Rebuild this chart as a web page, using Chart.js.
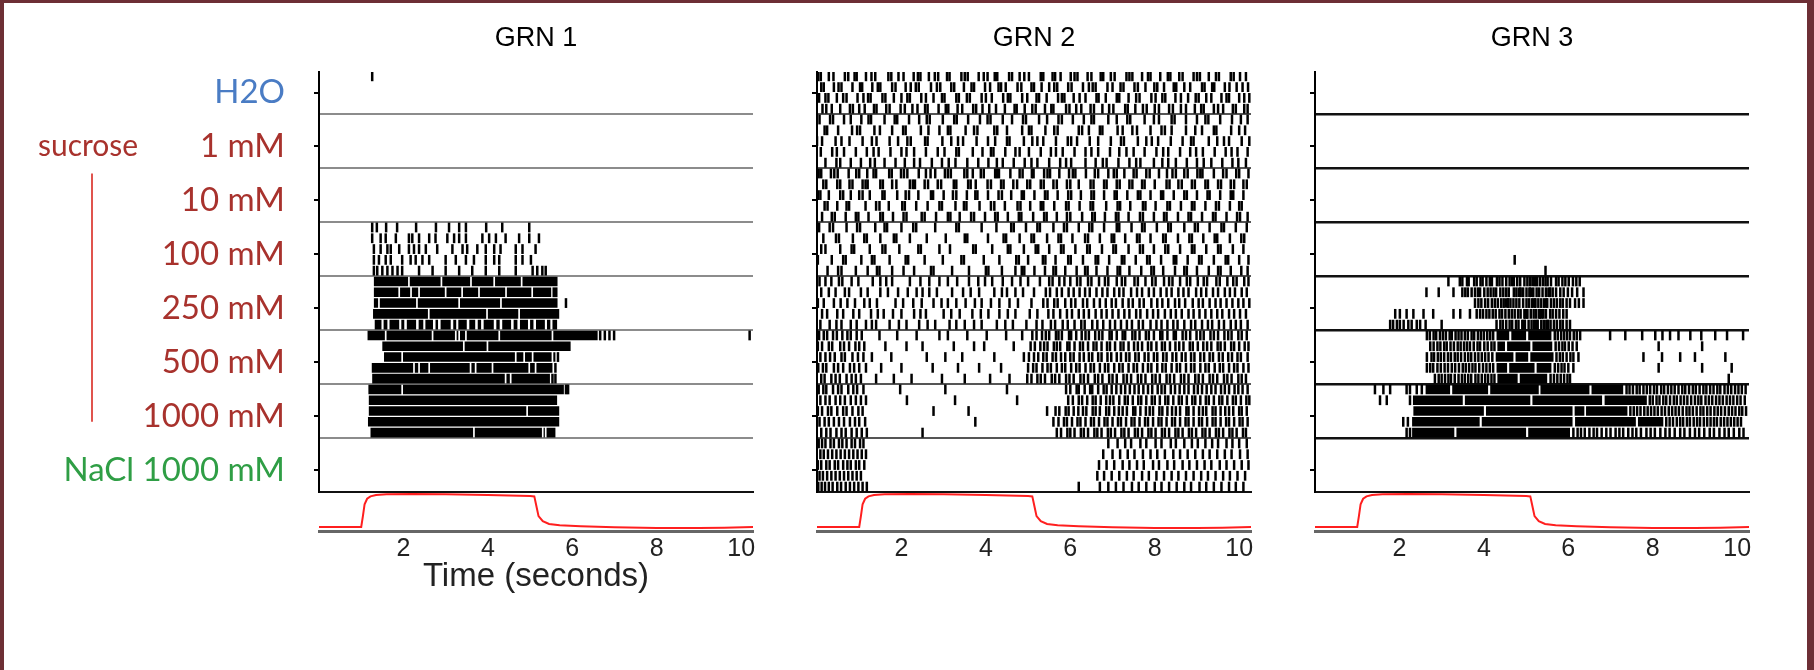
<!DOCTYPE html>
<html lang="en">
<head>
    <meta charset="UTF-8">
    <title>GRN spike rasters</title>
    <script src="https://cdn.jsdelivr.net/npm/chart.js@4.4.1/dist/chart.umd.min.js"></script>
    <style>
        body {
            margin: 0;
            width: 1814px;
            height: 670px;
            background: #6d2f35;
            overflow: hidden;
        }
        #sheet {
            position: absolute;
            left: 4px;
            top: 3px;
            width: 1803px;
            height: 667px;
            background: #fff;
        }
        .box {
            position: absolute;
        }
    </style>
</head>
<body>
    <div id="sheet"></div>

    <!-- GRN 1 -->
    <div class="box" style="left:0;top:0;width:772px;height:541px"><canvas id="raster1"></canvas></div>
    <div class="box" style="left:0;top:492px;width:772px;height:178px"><canvas id="stim1"></canvas></div>
    <!-- GRN 2 -->
    <div class="box" style="left:800px;top:0;width:460px;height:541px"><canvas id="raster2"></canvas></div>
    <div class="box" style="left:800px;top:492px;width:460px;height:178px"><canvas id="stim2"></canvas></div>
    <!-- GRN 3 -->
    <div class="box" style="left:1298px;top:0;width:460px;height:541px"><canvas id="raster3"></canvas></div>
    <div class="box" style="left:1298px;top:492px;width:460px;height:178px"><canvas id="stim3"></canvas></div>

    <script>
        // stimuli top to bottom, 5 trials each
        var stimuli = ['H2O', '1 mM', '10 mM', '100 mM', '250 mM', '500 mM', '1000 mM', 'NaCl 1000 mM'];
        var stimColors = ['#4a7cc4', '#a8322d', '#a8322d', '#a8322d', '#a8322d', '#a8322d', '#a8322d', '#2f9e45'];
        var timeTicks = [2, 4, 6, 8, 10];

        // tastant delivery trace (s, relative level)
        var stimTime  = [0, 1.0, 1.04, 1.08, 1.14, 1.22, 1.35, 1.6, 2.2, 3.0, 4.0, 5.0, 5.1, 5.14, 5.2, 5.3, 5.45, 5.7, 6.2, 7.0, 8.0, 9.0, 9.6, 10.28];
        var stimLevel = [0.03, 0.03, 0.35, 0.7, 0.86, 0.93, 0.97, 0.99, 1.0, 0.99, 0.97, 0.94, 0.93, 0.7, 0.35, 0.2, 0.12, 0.08, 0.05, 0.02, 0.0, 0.0, 0.01, 0.03];

        // spike times (s), one array per trial
        var grn1Spikes = [
            [], [1.26], [], [], [],
            [], [], [], [], [],
            [], [], [], [], [],
            [1.26,1.37,1.59,1.85,2.3,2.77,3.08,3.32,3.48,3.96,4.34,4.98],
            [1.26,1.46,1.58,1.82,2.13,2.21,2.37,2.61,2.76,3.04,3.2,3.32,3.48,3.87,4.03,4.19,4.42,4.74,4.98,5.21],
            [1.3,1.46,1.62,1.7,1.9,2.13,2.25,2.37,2.53,2.8,3.16,3.4,3.51,3.75,3.95,4.15,4.3,4.66,4.82,5.13],
            [1.3,1.42,1.58,1.7,1.97,2.17,2.29,2.45,2.61,3.0,3.24,3.48,3.67,3.95,4.15,4.27,4.66,4.82,5.02],
            [1.3,1.38,1.5,1.62,1.74,1.86,1.97,2.37,2.69,3.0,3.32,3.63,3.95,4.27,4.66,5.06,5.17,5.29,5.37],
            [], [5.56,5.62], [5.85], [], [],
            [6.66,6.77,6.88,6.99,10.2], [], [5.66], [5.6], [5.53,5.6],
            [5.85,5.9], [], [], [], [],
            [], [], [], [], []
        ];
        // firing too dense to separate: [trial, start, end]
        var grn1Bursts = [
            [20,1.3,2.11],[20,2.15,2.88],[20,2.92,3.58],[20,3.62,4.13],[20,4.17,4.78],[20,4.82,5.65],
            [21,1.3,1.88],[21,1.92,2.16],[21,2.2,2.35],[21,2.39,2.98],[21,3.02,3.37],[21,3.41,3.77],[21,3.81,4.41],[21,4.45,5.03],[21,5.07,5.5],
            [22,1.3,1.4],[22,1.44,2.3],[22,2.34,3.3],[22,3.34,4.29],[22,4.33,5.65],
            [23,1.28,2.58],[23,2.62,3.96],[23,4.0,4.72],[23,4.76,5.69],
            [24,1.32,1.48],[24,1.53,1.62],[24,1.67,1.9],[24,1.95,2.02],[24,2.08,2.3],[24,2.36,2.47],[24,2.52,2.7],[24,2.76,2.82],
            [24,2.88,3.12],[24,3.18,3.25],[24,3.3,3.5],[24,3.56,3.7],[24,3.76,3.84],[24,3.9,4.14],[24,4.2,4.28],[24,4.34,4.55],
            [24,4.61,4.7],[24,4.76,4.95],[24,5.0,5.08],[24,5.14,5.35],[24,5.4,5.48],[24,5.53,5.64],
            [25,1.15,1.56],[25,1.6,2.67],[25,2.71,3.22],[25,3.26,3.3],[25,3.34,3.46],[25,3.5,4.25],[25,4.29,5.51],[25,5.55,6.6],
            [26,1.5,3.41],[26,3.45,3.97],[26,4.01,5.96],
            [27,1.54,1.95],[27,1.99,4.64],[27,4.68,4.84],[27,4.88,5.04],[27,5.08,5.51],[27,5.55,5.6],
            [28,1.25,2.23],[28,2.27,2.35],[28,2.39,2.59],[28,2.63,3.57],[28,3.61,3.69],[28,3.73,4.09],[28,4.13,4.96],[28,5.0,5.11],[28,5.15,5.53],
            [29,1.26,4.4],[29,4.44,4.52],[29,4.56,5.47],
            [30,1.17,1.95],[30,1.99,5.8],
            [31,1.18,5.64],
            [32,1.18,4.91],[32,4.95,5.69],
            [33,1.16,5.69],
            [34,1.22,3.65],[34,3.69,5.28],[34,5.32,5.35],[34,5.39,5.6]
        ];

        var grn2Spikes = [
            [],
            [0.03,0.09,0.28,0.39,0.66,0.74,0.89,0.94,1.16,1.29,1.38,1.69,1.76,1.93,2.05,2.29,2.39,2.45,2.65,2.79,2.87,3.08,3.14,3.42,3.5,3.57,3.83,3.95,4.04,4.21,4.27,4.55,4.62,4.8,4.91,5.02,5.3,5.36,5.58,5.64,5.77,6.01,6.1,6.17,6.41,6.5,6.72,6.78,6.96,7.05,7.33,7.4,7.47,7.7,7.84,7.9,8.13,8.31,8.37,8.58,8.66,8.92,9.0,9.07,9.28,9.45,9.52,9.8,9.87,10.02,10.16],
            [0.1,0.16,0.4,0.51,0.58,0.84,1.02,1.07,1.31,1.44,1.5,1.78,1.86,2.1,2.22,2.34,2.41,2.7,2.84,2.92,3.18,3.25,3.48,3.66,3.72,3.98,4.1,4.3,4.36,4.47,4.75,4.84,5.08,5.14,5.32,5.5,5.62,5.69,5.95,6.03,6.3,6.44,6.53,6.6,6.88,7.0,7.19,7.26,7.52,7.6,7.78,7.99,8.06,8.22,8.45,8.51,8.7,8.84,9.12,9.18,9.36,9.41,9.66,9.77,9.94,10.08,10.21],
            [0.05,0.2,0.27,0.47,0.62,0.7,0.96,1.1,1.21,1.27,1.55,1.62,1.82,2.0,2.14,2.2,2.47,2.58,2.76,2.96,3.02,3.3,3.36,3.55,3.62,3.9,4.0,4.14,4.41,4.52,4.58,4.86,4.98,5.2,5.26,5.44,5.71,5.8,5.86,6.08,6.22,6.36,6.62,6.67,6.84,7.1,7.16,7.38,7.56,7.64,7.92,8.02,8.18,8.25,8.49,8.62,8.79,8.97,9.04,9.22,9.34,9.58,9.7,9.76,10.0,10.12,10.24],
            [0.13,0.22,0.35,0.55,0.78,0.85,1.0,1.13,1.35,1.41,1.64,1.72,1.98,2.08,2.26,2.38,2.56,2.62,2.88,3.05,3.11,3.33,3.44,3.7,3.77,3.92,4.08,4.24,4.45,4.68,4.73,4.92,5.1,5.18,5.4,5.55,5.6,5.9,5.98,6.14,6.26,6.48,6.56,6.76,6.92,7.02,7.3,7.36,7.54,7.72,7.81,8.0,8.1,8.34,8.43,8.62,8.74,8.95,9.1,9.16,9.4,9.5,9.62,9.85,9.92,10.12,10.2],
            [0.06,0.31,0.38,0.64,0.8,1.05,1.22,1.28,1.6,1.84,1.9,2.18,2.42,2.6,2.67,2.98,3.25,3.31,3.58,3.86,4.04,4.11,4.4,4.62,4.88,4.95,5.26,5.45,5.72,5.8,6.06,6.32,6.5,6.56,6.9,7.1,7.35,7.42,7.76,7.98,8.1,8.4,8.47,8.74,9.0,9.2,9.27,9.55,9.83,10.04,10.2],
            [0.18,0.24,0.5,0.83,0.95,1.02,1.36,1.49,1.78,2.04,2.1,2.46,2.64,2.9,3.1,3.16,3.52,3.72,3.8,4.2,4.27,4.5,4.86,5.02,5.08,5.41,5.62,5.7,6.2,6.28,6.44,6.7,6.76,7.12,7.24,7.47,7.58,7.9,8.16,8.24,8.4,8.74,8.96,9.12,9.4,9.46,9.81,10.0,10.14],
            [0.0,0.12,0.44,0.58,0.77,1.08,1.3,1.41,1.72,1.92,2.14,2.22,2.56,2.62,2.97,3.18,3.34,3.46,3.78,4.05,4.22,4.5,4.56,4.9,5.1,5.22,5.36,5.66,5.94,6.02,6.16,6.46,6.66,6.96,7.2,7.27,7.6,7.8,7.93,8.08,8.38,8.66,8.86,8.92,9.28,9.48,9.64,9.76,10.06,10.24],
            [0.09,0.36,0.47,0.64,0.92,1.18,1.34,1.46,1.74,2.0,2.12,2.3,2.58,2.86,3.02,3.3,3.36,3.69,3.92,4.12,4.18,4.46,4.7,4.8,5.02,5.3,5.54,5.66,5.82,6.1,6.36,6.5,6.66,6.94,7.16,7.33,7.5,7.76,8.04,8.2,8.32,8.6,8.84,8.98,9.14,9.42,9.68,9.82,9.96,10.2],
            [0.2,0.46,0.55,0.8,1.04,1.26,1.37,1.6,1.86,2.08,2.3,2.44,2.72,2.96,3.12,3.28,3.56,3.82,4.06,4.26,4.4,4.66,4.92,5.08,5.22,5.5,5.76,5.9,6.02,6.36,6.6,6.77,6.86,7.14,7.4,7.56,7.66,7.98,8.18,8.32,8.5,8.76,9.0,9.16,9.34,9.6,9.84,9.98,10.16],
            [0.04,0.1,0.33,0.41,0.49,0.75,0.93,1.0,1.19,1.34,1.4,1.71,1.77,1.99,2.06,2.14,2.41,2.58,2.69,2.8,3.03,3.1,3.17,3.49,3.56,3.69,3.88,3.95,4.22,4.26,4.31,4.58,4.8,4.87,5.09,5.13,5.38,5.46,5.52,5.74,5.97,6.06,6.12,6.37,6.58,6.66,6.9,7.03,7.1,7.28,7.5,7.57,7.8,7.88,8.1,8.29,8.42,8.5,8.7,8.78,9.01,9.08,9.13,9.4,9.62,9.7,9.93,10.0,10.22],
            [0.15,0.22,0.48,0.55,0.77,0.84,1.08,1.15,1.2,1.5,1.56,1.78,1.88,2.2,2.27,2.32,2.55,2.63,2.86,2.94,3.24,3.3,3.58,3.64,3.76,4.04,4.12,4.36,4.42,4.65,4.74,4.98,5.05,5.3,5.37,5.6,5.68,5.92,6.0,6.2,6.48,6.55,6.8,6.86,7.1,7.17,7.4,7.47,7.7,7.76,8.0,8.28,8.35,8.56,8.64,8.88,8.95,9.2,9.26,9.5,9.57,9.8,9.88,10.1,10.18],
            [0.02,0.08,0.28,0.55,0.62,0.8,1.0,1.08,1.25,1.55,1.6,1.9,2.1,2.18,2.4,2.7,2.75,3.0,3.22,3.3,3.55,3.75,3.8,4.05,4.3,4.38,4.6,4.85,4.9,5.15,5.4,5.46,5.7,5.95,6.02,6.25,6.5,6.56,6.8,7.05,7.1,7.35,7.6,7.66,7.9,8.15,8.2,8.45,8.7,8.76,9.0,9.25,9.3,9.55,9.8,9.86,10.1],
            [0.18,0.25,0.48,0.7,0.76,1.15,1.4,1.48,1.7,2.02,2.08,2.35,2.62,2.9,2.96,3.28,3.48,3.54,3.85,4.12,4.2,4.45,4.75,4.82,5.05,5.3,5.36,5.62,5.9,5.96,6.22,6.48,6.54,6.85,7.12,7.18,7.42,7.72,7.78,8.02,8.3,8.36,8.62,8.88,8.94,9.2,9.45,9.52,9.78,10.0,10.06],
            [0.12,0.35,0.42,0.68,0.92,0.98,1.22,1.5,1.56,1.8,2.05,2.12,2.48,2.55,2.82,3.1,3.16,3.38,3.65,3.72,3.98,4.22,4.28,4.52,4.78,4.84,5.12,5.38,5.44,5.68,5.92,6.0,6.28,6.52,6.58,6.82,7.08,7.14,7.38,7.65,7.72,7.98,8.22,8.28,8.55,8.8,8.86,9.12,9.38,9.44,9.7,9.95,10.02,10.2],
            [0.05,0.3,0.38,0.7,0.95,1.02,1.38,1.6,1.66,2.0,2.28,2.35,2.8,3.3,3.36,3.9,4.25,4.6,4.66,4.95,5.22,5.28,5.6,5.85,5.92,6.2,6.45,6.52,6.8,7.1,7.16,7.45,7.7,7.76,8.05,8.32,8.38,8.7,8.95,9.02,9.3,9.58,9.64,9.92,10.18],
            [0.15,0.45,0.52,0.85,1.12,1.18,1.5,1.82,1.88,2.2,2.6,3.05,3.5,3.56,4.05,4.42,4.48,4.8,5.08,5.14,5.45,5.72,5.78,6.05,6.35,6.42,6.7,6.98,7.04,7.3,7.58,7.64,7.9,8.2,8.26,8.55,8.82,8.88,9.15,9.42,9.48,9.78,10.05,10.12],
            [0.1,0.2,0.55,0.82,0.88,1.25,1.55,1.62,1.95,2.4,2.46,2.9,3.15,3.7,3.76,4.15,4.52,4.58,4.9,5.18,5.24,5.5,5.78,5.84,6.12,6.4,6.46,6.75,7.02,7.08,7.38,7.65,7.72,7.98,8.25,8.32,8.6,8.88,8.94,9.22,9.5,9.56,9.85,10.1],
            [0.02,0.35,0.62,0.68,1.05,1.3,1.36,1.72,2.1,2.16,2.55,2.98,3.42,3.48,3.95,4.32,4.72,4.78,5.0,5.35,5.41,5.65,5.95,6.01,6.3,6.6,6.66,6.92,7.22,7.28,7.55,7.82,7.88,8.15,8.45,8.51,8.78,9.05,9.11,9.4,9.68,9.74,10.0,10.22],
            [0.25,0.5,0.58,0.92,1.2,1.42,1.48,1.78,2.05,2.3,2.7,2.76,3.2,3.6,4.0,4.06,4.38,4.7,4.85,4.91,5.15,5.4,5.6,5.66,5.88,6.15,6.35,6.41,6.62,6.88,7.12,7.18,7.4,7.68,7.92,7.98,8.2,8.48,8.7,8.76,9.0,9.28,9.5,9.56,9.8,10.05,10.2],
            [0.06,0.2,0.34,0.52,0.6,0.82,0.98,1.32,1.5,1.64,1.78,2.2,2.45,2.66,2.9,3.1,3.32,3.6,3.82,3.98,4.15,4.4,4.62,4.82,5.0,5.28,5.5,5.58,5.74,5.86,6.0,6.16,6.24,6.42,6.5,6.68,6.82,6.9,7.1,7.22,7.3,7.52,7.6,7.78,7.94,8.02,8.22,8.34,8.42,8.6,8.76,8.84,9.02,9.16,9.24,9.46,9.54,9.72,9.86,9.94,10.12,10.22],
            [0.1,0.28,0.44,0.66,0.76,1.04,1.2,1.5,1.68,1.92,2.15,2.36,2.5,2.66,2.84,3.2,3.46,3.64,3.84,4.2,4.38,4.5,4.7,4.88,5.14,5.42,5.52,5.68,5.8,5.96,6.08,6.22,6.35,6.46,6.62,6.76,6.88,7.04,7.16,7.26,7.44,7.58,7.7,7.86,7.98,8.14,8.28,8.4,8.56,8.68,8.8,8.98,9.1,9.22,9.38,9.5,9.66,9.78,9.9,10.06,10.18],
            [0.02,0.16,0.4,0.56,0.72,0.9,1.12,1.25,1.42,1.86,2.04,2.28,2.48,2.76,2.95,3.1,3.3,3.52,3.74,3.9,4.12,4.32,4.56,4.76,5.08,5.36,5.46,5.62,5.7,5.88,6.02,6.12,6.3,6.4,6.56,6.7,6.84,6.98,7.08,7.24,7.38,7.48,7.64,7.74,7.92,8.06,8.18,8.32,8.48,8.58,8.72,8.9,9.04,9.14,9.3,9.44,9.56,9.7,9.84,9.98,10.1,10.24],
            [0.12,0.24,0.48,0.62,0.86,1.0,1.28,1.44,1.58,1.8,2.0,2.3,2.45,2.58,3.0,3.18,3.38,3.68,3.88,4.06,4.32,4.52,4.7,5.04,5.22,5.48,5.6,5.76,5.92,6.04,6.2,6.32,6.44,6.6,6.74,6.86,7.0,7.14,7.28,7.4,7.56,7.66,7.82,7.96,8.08,8.24,8.38,8.5,8.64,8.8,8.92,9.06,9.2,9.34,9.48,9.6,9.76,9.88,10.02,10.16],
            [0.08,0.3,0.46,0.58,0.8,0.94,1.16,1.3,1.4,1.72,1.94,2.12,2.42,2.62,2.8,3.14,3.3,3.5,3.72,3.9,4.26,4.46,4.64,4.96,5.2,5.34,5.54,5.64,5.82,5.94,6.1,6.26,6.34,6.52,6.64,6.78,6.94,7.06,7.2,7.34,7.46,7.62,7.72,7.9,8.04,8.16,8.3,8.44,8.54,8.7,8.86,8.96,9.12,9.26,9.36,9.52,9.64,9.8,9.92,10.04,10.2],
            [0.05,0.16,0.24,0.38,0.47,0.6,0.72,0.8,0.94,1.06,1.48,1.9,2.36,2.9,3.1,3.56,4.02,4.48,4.86,5.1,5.2,5.33,5.42,5.5,5.66,5.72,5.8,5.97,6.02,6.14,6.27,6.36,6.44,6.59,6.68,6.76,6.93,6.98,7.1,7.24,7.3,7.47,7.54,7.64,7.79,7.86,7.98,8.13,8.18,8.3,8.45,8.5,8.66,8.74,8.84,8.99,9.08,9.16,9.32,9.4,9.5,9.65,9.74,9.82,9.98,10.06,10.18],
            [0.02,0.12,0.28,0.36,0.55,0.64,0.76,0.91,1.0,1.12,1.62,2.12,2.5,3.24,3.72,3.96,4.66,5.06,5.16,5.29,5.38,5.46,5.61,5.68,5.76,5.93,5.98,6.1,6.23,6.3,6.42,6.55,6.62,6.74,6.87,6.94,7.06,7.19,7.26,7.38,7.51,7.6,7.7,7.84,7.92,8.04,8.17,8.24,8.36,8.49,8.58,8.68,8.83,8.9,9.02,9.15,9.24,9.34,9.49,9.56,9.66,9.81,9.88,10.0,10.13,10.22],
            [0.08,0.2,0.31,0.42,0.58,0.66,0.84,0.97,1.1,1.3,1.76,2.6,3.04,3.44,4.2,4.9,5.02,5.14,5.24,5.36,5.44,5.58,5.66,5.78,5.88,6.0,6.08,6.22,6.32,6.44,6.52,6.66,6.74,6.88,6.97,7.1,7.2,7.32,7.4,7.54,7.62,7.76,7.85,7.98,8.06,8.2,8.28,8.42,8.51,8.64,8.73,8.86,8.94,9.08,9.17,9.3,9.38,9.52,9.61,9.74,9.83,9.96,10.04,10.2],
            [0.03,0.14,0.22,0.4,0.5,0.62,0.78,0.88,1.0,1.16,1.52,2.0,2.74,3.34,3.84,4.36,5.0,5.12,5.2,5.34,5.46,5.54,5.68,5.8,5.88,6.02,6.14,6.22,6.36,6.48,6.56,6.7,6.82,6.9,7.04,7.16,7.24,7.38,7.5,7.58,7.72,7.84,7.92,8.06,8.18,8.26,8.4,8.52,8.6,8.74,8.86,8.94,9.08,9.2,9.28,9.42,9.54,9.62,9.76,9.88,9.96,10.1,10.22],
            [0.1,0.18,0.34,0.44,0.54,0.7,0.82,0.92,1.04,1.4,1.82,2.24,2.96,3.5,4.1,4.56,4.98,5.08,5.22,5.3,5.4,5.56,5.64,5.74,5.9,5.98,6.08,6.24,6.32,6.42,6.58,6.66,6.76,6.92,7.0,7.1,7.26,7.34,7.44,7.6,7.68,7.78,7.94,8.02,8.12,8.28,8.36,8.46,8.62,8.7,8.8,8.96,9.04,9.14,9.3,9.38,9.48,9.64,9.72,9.82,9.98,10.06,10.16],
            [0.04,0.15,0.22,0.38,0.5,0.58,0.74,0.86,0.95,1.1,1.97,3.04,4.5,5.9,6.0,6.15,6.2,6.34,6.47,6.52,6.66,6.79,6.86,6.98,7.09,7.2,7.3,7.41,7.52,7.62,7.73,7.84,7.94,8.07,8.16,8.24,8.38,8.48,8.59,8.7,8.8,8.93,9.02,9.12,9.23,9.34,9.44,9.57,9.66,9.76,9.89,9.98,10.08,10.2],
            [0.08,0.2,0.3,0.44,0.55,0.66,0.8,0.92,1.04,1.16,2.13,3.27,4.74,5.95,6.06,6.2,6.28,6.4,6.53,6.6,6.72,6.85,6.94,7.02,7.16,7.29,7.36,7.48,7.61,7.68,7.8,7.93,8.0,8.12,8.25,8.32,8.44,8.57,8.64,8.76,8.89,8.96,9.08,9.21,9.28,9.4,9.53,9.6,9.72,9.85,9.92,10.04,10.17,10.24],
            [0.02,0.12,0.26,0.34,0.48,0.62,0.7,0.84,0.98,1.08,2.76,3.59,5.45,5.65,5.74,5.89,5.96,6.08,6.19,6.3,6.38,6.53,6.6,6.7,6.85,6.92,7.04,7.15,7.24,7.34,7.49,7.54,7.66,7.79,7.88,7.96,8.11,8.18,8.3,8.41,8.5,8.6,8.75,8.8,8.92,9.05,9.14,9.22,9.37,9.44,9.56,9.67,9.76,9.86,10.0,10.06,10.18],
            [0.06,0.18,0.28,0.4,0.52,0.64,0.78,0.9,1.0,1.14,3.75,5.6,5.72,5.85,5.92,6.04,6.17,6.24,6.36,6.49,6.56,6.68,6.81,6.88,7.0,7.13,7.2,7.32,7.45,7.52,7.64,7.77,7.84,7.96,8.09,8.16,8.28,8.41,8.48,8.6,8.73,8.8,8.92,9.05,9.12,9.24,9.37,9.44,9.56,9.69,9.76,9.88,10.01,10.08,10.2],
            [0.1,0.22,0.32,0.46,0.58,0.68,0.82,0.94,1.06,1.18,2.5,5.68,5.78,5.93,6.0,6.1,6.25,6.32,6.42,6.57,6.64,6.74,6.89,6.96,7.06,7.21,7.28,7.38,7.53,7.6,7.7,7.85,7.92,8.02,8.17,8.24,8.34,8.49,8.56,8.66,8.81,8.88,8.98,9.13,9.2,9.3,9.45,9.52,9.62,9.77,9.84,9.94,10.09,10.16],
            [0.04,0.12,0.2,0.32,0.4,0.52,0.6,0.7,0.82,0.9,1.02,1.1,6.9,7.12,7.3,7.44,7.66,7.8,8.02,8.16,8.38,8.5,8.7,8.88,9.02,9.2,9.36,9.5,9.7,9.84,10.0,10.18],
            [0.08,0.16,0.26,0.36,0.46,0.56,0.66,0.76,0.86,0.96,1.06,1.16,6.78,7.0,7.18,7.36,7.52,7.72,7.9,8.06,8.24,8.44,8.6,8.78,8.96,9.14,9.3,9.48,9.66,9.82,10.02,10.2],
            [0.02,0.1,0.22,0.3,0.42,0.5,0.62,0.72,0.8,0.92,1.0,1.12,6.68,6.86,7.04,7.24,7.4,7.58,7.74,7.96,8.1,8.3,8.46,8.66,8.82,9.0,9.18,9.34,9.54,9.7,9.88,10.06,10.22],
            [0.06,0.14,0.24,0.34,0.44,0.54,0.64,0.74,0.84,0.94,1.04,6.64,6.8,6.98,7.16,7.34,7.5,7.7,7.86,8.04,8.22,8.4,8.56,8.74,8.92,9.1,9.26,9.44,9.62,9.78,9.96,10.14],
            [0.03,0.11,0.19,0.28,0.37,0.48,0.57,0.68,0.78,0.88,0.98,1.08,1.18,6.2,6.7,6.9,7.08,7.26,7.46,7.62,7.8,8.0,8.16,8.34,8.52,8.7,8.86,9.06,9.22,9.4,9.58,9.76,9.92,10.1]
        ];
        var grn2Bursts = [];

        var grn3Spikes = [
            [], [], [], [], [],
            [], [], [], [], [],
            [], [], [], [], [],
            [], [], [], [4.73], [5.46],
            [3.16,3.43,3.49,3.6,3.64,3.77,3.83,3.92,3.97,4.06,4.14,4.19,4.31,4.37,4.44,4.53,4.61,4.71,4.79,4.86,4.96,5.03,5.09,5.21,5.26,5.33,5.46,5.51,5.59,5.71,5.77,5.86,5.93,6.01,6.11,6.19,6.27],
            [2.64,2.93,3.28,3.49,3.56,3.62,3.71,3.79,3.86,3.91,4.01,4.09,4.16,4.23,4.29,4.39,4.46,4.53,4.59,4.71,4.77,4.86,4.93,5.01,5.09,5.17,5.25,5.31,5.39,5.47,5.56,5.63,5.71,5.81,5.89,5.99,6.09,6.21,6.36],
            [3.79,3.87,3.94,4.03,4.1,4.19,4.26,4.33,4.41,4.47,4.57,4.63,4.7,4.77,4.84,4.93,5.01,5.07,5.14,5.21,5.29,5.36,5.43,5.5,5.59,5.66,5.73,5.81,5.87,5.96,6.04,6.16,6.25,6.36],
            [1.9,2.01,2.17,2.33,2.57,2.8,3.28,3.44,3.67,3.83,3.91,3.98,4.06,4.13,4.21,4.28,4.37,4.43,4.51,4.59,4.66,4.73,4.81,4.87,4.96,5.03,5.11,5.18,5.24,5.33,5.41,5.47,5.57,5.63,5.71,5.79,5.88,5.96],
            [1.78,1.85,1.94,2.01,2.1,2.21,2.29,2.41,2.49,2.62,3.0,4.3,4.39,4.45,4.53,4.61,4.67,4.76,4.82,4.91,4.97,5.06,5.13,5.19,5.27,5.36,5.42,5.51,5.58,5.66,5.73,5.81,5.87,5.96,6.04],
            [2.65,2.72,2.81,2.87,2.96,3.03,3.1,3.19,3.24,3.33,3.4,3.47,3.55,3.62,3.71,3.77,3.86,3.93,4.0,4.08,4.15,4.22,5.68,5.75,5.83,5.9,5.97,6.04,6.13,6.2,6.28,6.99,7.35,7.75,8.06,8.23,8.41,8.61,8.89,9.15,9.48,9.76,10.14],
            [2.73,2.81,2.9,2.97,3.06,3.12,3.21,3.29,3.38,3.45,3.53,3.6,3.67,3.76,3.85,3.91,4.01,4.09,4.18,4.25,5.7,5.78,5.86,5.92,6.01,6.1,6.2,8.14,9.17],
            [2.65,2.76,2.82,2.91,2.98,3.06,3.15,3.22,3.31,3.38,3.46,3.55,3.63,3.7,3.79,3.87,3.95,4.03,4.11,4.2,5.72,5.8,5.87,5.96,6.05,6.12,6.24,7.78,8.22,8.65,9.0,9.72],
            [2.65,2.73,2.8,2.9,2.98,3.07,3.15,3.24,3.32,3.41,3.5,3.57,3.65,3.73,3.8,3.89,3.98,4.06,4.14,4.22,5.68,5.76,5.84,5.91,6.0,6.12,8.14,9.17,9.87],
            [2.84,2.93,3.0,3.08,3.16,3.22,3.31,3.4,3.48,3.55,3.63,3.7,3.8,3.87,3.95,4.03,4.1,4.18,4.25,5.58,5.66,5.74,5.82,5.9,5.98,6.04,9.8],
            [1.42,1.62,1.78,2.17,2.25,2.41,2.53,7.38,7.45,7.53,7.62,7.69,7.78,7.86,7.94,8.03,8.1,8.2,8.27,8.36,8.44,8.52,8.61,8.7,8.77,8.86,8.95,9.02,9.11,9.2,9.27,9.36,9.44,9.53,9.6,9.7,9.78,9.86,9.95,10.03,10.11,10.2],
            [1.54,1.7,2.25,7.93,8.0,8.09,8.16,8.25,8.32,8.41,8.5,8.57,8.66,8.74,8.82,8.91,9.0,9.08,9.15,9.25,9.33,9.41,9.5,9.58,9.66,9.75,9.83,9.91,10.0,10.08,10.18],
            [7.47,7.55,7.63,7.71,7.8,7.88,7.96,8.04,8.12,8.21,8.29,8.38,8.46,8.54,8.62,8.71,8.8,8.87,8.95,9.04,9.13,9.2,9.29,9.37,9.46,9.54,9.62,9.71,9.8,9.88,9.96,10.05,10.12,10.21],
            [2.09,2.2,8.32,8.4,8.48,8.57,8.65,8.72,8.81,8.88,8.97,9.05,9.12,9.21,9.29,9.37,9.45,9.52,9.61,9.69,9.77,9.85,9.93,10.01,10.09],
            [2.17,2.25,6.12,6.22,6.3,6.39,6.5,6.6,6.68,6.79,6.9,7.0,7.12,7.21,7.3,7.42,7.52,7.61,7.72,7.85,7.95,8.05,8.18,8.3,8.4,8.52,8.65,8.75,8.88,9.0,9.1,9.22,9.35,9.45,9.58,9.7,9.8,9.92,10.05,10.15],
            [], [], [], [], []
        ];
        var grn3Bursts = [
            [20,4.64,4.69],[20,5.12,5.19],[20,5.37,5.43],
            [21,4.8,4.9],[21,5.05,5.14],[21,5.5,5.6],
            [22,4.5,4.6],[22,5.15,5.25],[22,5.44,5.52],
            [23,4.95,5.05],[23,5.28,5.4],
            [24,4.9,5.0],[24,5.2,5.3],[24,5.45,5.55],
            [25,4.3,4.6],[25,4.65,5.0],[25,5.05,5.6],
            [26,4.32,4.5],[26,4.55,5.1],[26,5.15,5.62],
            [27,4.28,4.7],[27,4.75,5.05],[27,5.1,5.65],
            [28,4.3,4.55],[28,4.6,5.2],[28,5.25,5.6],
            [29,4.32,4.8],[29,4.85,5.5],
            [30,2.62,3.2],[30,3.25,4.1],[30,4.15,5.3],[30,5.34,6.5],[30,6.55,7.3],
            [31,2.32,3.5],[31,3.55,5.1],[31,5.15,6.8],[31,6.86,7.86],
            [32,2.33,4.0],[32,4.05,6.1],[32,6.15,6.38],[32,6.42,7.4],
            [33,2.3,3.9],[33,3.95,6.1],[33,6.16,7.6],[33,7.65,8.25],
            [34,2.3,3.3],[34,3.35,5.0],[34,5.05,6.04]
        ];

        var tMax = 10.28;      // seconds shown on each time axis
        var yTop = 1.1;        // first water trial runs off the top of the frame
        var nTrials = 40;

        function spikePoints(rows) {
            var pts = [];
            rows.forEach(function (times, r) {
                times.forEach(function (t) { pts.push({x: t, y: r + 0.5}); });
            });
            return pts;
        }

        function burstPoints(list) {
            var pts = [];
            list.forEach(function (b) {
                pts.push({x: b[1], y: b[0] + 0.5}, {x: b[2], y: b[0] + 0.5}, {x: b[2], y: null});
            });
            return pts;
        }

        var labelFont = {family: 'Lato', size: 33};

        // "sucrose" caption and the bracket that joins the sucrose rows
        var sucroseBracket = {
            id: 'sucroseBracket',
            afterDraw: function (chart) {
                var ctx = chart.ctx, y = chart.scales.y;
                ctx.save();
                ctx.font = '30px Lato';
                ctx.fillStyle = '#a8322d';
                ctx.textAlign = 'left';
                ctx.textBaseline = 'middle';
                ctx.fillText('sucrose', 38, y.getPixelForValue(8));
                ctx.strokeStyle = '#e0544e';
                ctx.lineWidth = 2;
                ctx.beginPath();
                ctx.moveTo(92, y.getPixelForValue(10.5));
                ctx.lineTo(92, y.getPixelForValue(33.5));
                ctx.stroke();
                ctx.restore();
            }
        };

        function drawRaster(id, title, spikes, bursts, cfg) {
            new Chart(document.getElementById(id), {
                type: 'scatter',
                data: {
                    datasets: [{
                        data: burstPoints(bursts),
                        showLine: true,
                        spanGaps: false,
                        borderColor: '#000',
                        borderWidth: 9.6,
                        borderCapStyle: 'butt',
                        pointRadius: 0
                    }, {
                        data: spikePoints(spikes),
                        pointStyle: 'line',
                        pointRotation: 90,
                        pointRadius: 4.9,
                        pointBorderWidth: 2.5,
                        pointBorderColor: '#000',
                        pointBackgroundColor: '#000'
                    }]
                },
                options: {
                    responsive: true,
                    maintainAspectRatio: false,
                    animation: false,
                    events: [],
                    layout: {padding: {left: 0, right: cfg.padRight, top: 0, bottom: 0}},
                    plugins: {
                        legend: {display: false},
                        tooltip: {enabled: false},
                        title: {
                            display: true,
                            text: title,
                            fullSize: false,
                            color: '#000',
                            font: {family: 'Liberation Sans', size: 27, weight: 'normal'},
                            padding: {top: 22.3, bottom: 17.3}
                        }
                    },
                    scales: {
                        x: {
                            type: 'linear', min: 0, max: tMax,
                            ticks: {display: false},
                            grid: {display: false, drawTicks: false},
                            border: {display: true, color: '#111', width: 2},
                            // room below the frame, kept equal in every panel
                            afterFit: function (s) { s.height = 49; }
                        },
                        y: {
                            type: 'linear', reverse: true, min: yTop, max: nTrials,
                            afterBuildTicks: function (s) {
                                s.ticks = stimuli.map(function (_, g) { return {value: g * 5 + 3}; });
                            },
                            ticks: {
                                display: cfg.labels,
                                autoSkip: false,
                                padding: 29,
                                font: labelFont,
                                color: function (c) { return stimColors[c.index]; },
                                callback: function (v, i) { return stimuli[i]; }
                            },
                            grid: {drawOnChartArea: false, tickLength: 5, color: '#000', lineWidth: 2},
                            border: {color: '#000', width: 2},
                            afterFit: function (s) { s.width = cfg.axisWidth; }
                        },
                        ySep: {
                            type: 'linear', position: 'left', reverse: true, min: yTop, max: nTrials,
                            afterBuildTicks: function (s) {
                                s.ticks = [5, 10, 15, 20, 25, 30, 35].map(function (v) { return {value: v}; });
                            },
                            ticks: {display: false},
                            grid: {color: cfg.sepColor, lineWidth: cfg.sepWidth, drawTicks: false},
                            border: {display: false},
                            afterFit: function (s) { s.width = 0; }
                        }
                    }
                },
                plugins: cfg.extra ? [cfg.extra] : []
            });
        }

        function drawStim(id, cfg) {
            new Chart(document.getElementById(id), {
                type: 'line',
                data: {
                    datasets: [{
                        data: stimTime.map(function (t, i) { return {x: t, y: stimLevel[i]}; }),
                        borderColor: '#ff1f1f',
                        borderWidth: 2,
                        pointRadius: 0,
                        tension: 0
                    }]
                },
                options: {
                    responsive: true,
                    maintainAspectRatio: false,
                    animation: false,
                    events: [],
                    layout: {padding: {left: cfg.axisWidth, right: cfg.padRight, top: 0, bottom: 0}},
                    plugins: {legend: {display: false}, tooltip: {enabled: false}},
                    scales: {
                        x: {
                            type: 'linear', min: 0, max: tMax,
                            afterBuildTicks: function (s) {
                                s.ticks = timeTicks.map(function (v) { return {value: v}; });
                            },
                            ticks: {
                                autoSkip: false, maxRotation: 0, padding: 3,
                                color: '#222',
                                font: {family: 'Liberation Sans', size: 25}
                            },
                            grid: {display: false, drawTicks: false},
                            border: {color: '#666', width: 3},
                            title: {
                                display: cfg.showTitle,
                                text: 'Time (seconds)',
                                color: '#222',
                                font: {family: 'Liberation Sans', size: 33},
                                padding: {top: 0, bottom: 73}
                            },
                            afterFit: function (s) { s.height = 139; }
                        },
                        y: {display: false, min: -0.088, max: 1.059}
                    }
                }
            });
        }

        drawRaster('raster1', 'GRN 1', grn1Spikes, grn1Bursts,
            {labels: true, axisWidth: 319, padRight: 19, sepColor: '#8c8c8c', sepWidth: 2, extra: sucroseBracket});
        drawRaster('raster2', 'GRN 2', grn2Spikes, grn2Bursts,
            {labels: false, axisWidth: 17, padRight: 9, sepColor: '#555', sepWidth: 2});
        drawRaster('raster3', 'GRN 3', grn3Spikes, grn3Bursts,
            {labels: false, axisWidth: 17, padRight: 9, sepColor: '#111', sepWidth: 2.5});

        drawStim('stim1', {axisWidth: 319, padRight: 19, showTitle: true});
        drawStim('stim2', {axisWidth: 17, padRight: 9, showTitle: false});
        drawStim('stim3', {axisWidth: 17, padRight: 9, showTitle: false});
    </script>
</body>
</html>
